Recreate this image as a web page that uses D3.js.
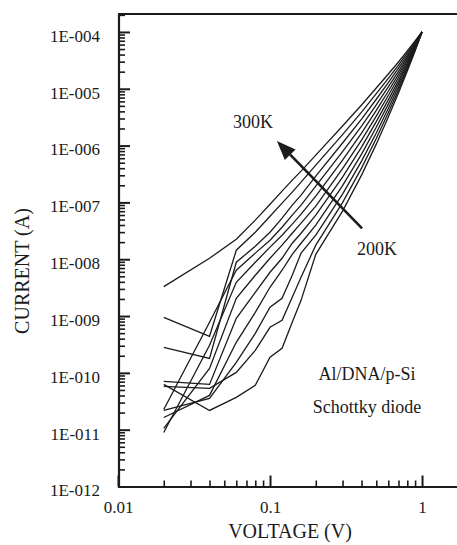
<!DOCTYPE html>
<html>
<head>
<meta charset="utf-8">
<script src="https://cdn.jsdelivr.net/npm/d3@7"></script>
<style>
  html, body { margin: 0; padding: 0; background: #fff; }
  svg { display: block; }
  svg text { font-family: "Liberation Serif", "Times New Roman", "DejaVu Serif", serif; }
</style>
</head>
<body>
<svg id="chart" width="457" height="545"></svg>
<script>
// Forward I–V characteristics of an Al/DNA/p-Si Schottky diode, 200 K – 300 K
const voltages = [0.02, 0.04, 0.06, 0.08, 0.1, 0.12, 0.14, 0.16, 0.2, 0.3, 0.4, 0.5, 0.6, 0.7, 0.8, 0.9, 1.0];

const temperatures = [300, 290, 280, 270, 260, 250, 240, 230, 220, 210, 200];

const current300K = [3.3e-9, 1.04e-8, 2.25e-8, 4.87e-8, 9.3e-8, 1.58e-7, 2.47e-7, 3.55e-7, 6.8e-7, 2.21e-6, 5.17e-6, 1.03e-5, 1.82e-5, 2.96e-5, 4.63e-5, 6.94e-5, 1e-4];
const current290K = [9.5e-10, 4.4e-10, 1.44e-8, 2.99e-8, 5.72e-8, 9.7e-8, 1.52e-7, 2.27e-7, 4.53e-7, 1.56e-6, 3.89e-6, 8.21e-6, 1.53e-5, 2.61e-5, 4.27e-5, 6.66e-5, 1e-4];
const current280K = [2.81e-10, 1.8e-10, 8.85e-9, 1.69e-8, 2.99e-8, 5.28e-8, 8.94e-8, 1.34e-7, 2.9e-7, 1.11e-6, 2.93e-6, 6.54e-6, 1.28e-5, 2.3e-5, 3.93e-5, 6.4e-5, 1e-4];
const current270K = [2.27e-11, 7.76e-10, 6.4e-9, 1.28e-8, 2.16e-8, 3.66e-8, 5.96e-8, 8.94e-8, 1.93e-7, 7.84e-7, 2.21e-6, 5.21e-6, 1.08e-5, 2.03e-5, 3.63e-5, 6.14e-5, 1e-4];
const current260K = [8.94e-12, 3.05e-10, 3.93e-9, 8.85e-9, 1.63e-8, 2.65e-8, 4.14e-8, 6.21e-8, 1.29e-7, 5.55e-7, 1.66e-6, 4.15e-6, 9.05e-6, 1.79e-5, 3.34e-5, 5.9e-5, 1e-4];
const current250K = [1.05e-11, 1.2e-10, 2.06e-9, 5.23e-9, 1.04e-8, 1.77e-8, 2.87e-8, 4.31e-8, 8.59e-8, 3.93e-7, 1.25e-6, 3.31e-6, 7.61e-6, 1.58e-5, 3.08e-5, 5.67e-5, 1e-4];
const current240K = [7.08e-11, 6.27e-11, 9.13e-10, 2.62e-9, 5.9e-9, 1.04e-8, 1.91e-8, 2.87e-8, 5.96e-8, 2.79e-7, 9.41e-7, 2.64e-6, 6.39e-6, 1.39e-5, 2.84e-5, 5.44e-5, 1e-4];
const current230K = [1.64e-11, 4.01e-11, 3.45e-10, 1.16e-9, 3.21e-9, 6.4e-9, 1.22e-8, 1.91e-8, 3.97e-8, 1.97e-7, 7.08e-7, 2.1e-6, 5.36e-6, 1.23e-5, 2.62e-5, 5.23e-5, 1e-4];
const current220K = [2.18e-11, 3.55e-11, 1.53e-10, 4.97e-10, 1.43e-9, 2.06e-9, 5.23e-9, 1.28e-8, 2.65e-8, 1.4e-7, 5.33e-7, 1.67e-6, 4.51e-6, 1.08e-5, 2.42e-5, 5.02e-5, 1e-4];
const current210K = [5.78e-11, 5.33e-11, 1.02e-10, 2.49e-10, 6.34e-10, 8.42e-10, 2.14e-9, 4.82e-9, 1.77e-8, 9.9e-8, 4.01e-7, 1.33e-6, 3.78e-6, 9.54e-6, 2.23e-5, 4.82e-5, 1e-4];
const current200K = [6.27e-11, 2.18e-11, 3.7e-11, 6.02e-11, 1.88e-10, 2.7e-10, 7.76e-10, 1.89e-9, 1.22e-8, 7.01e-8, 3.02e-7, 1.06e-6, 3.18e-6, 8.42e-6, 2.06e-5, 4.63e-5, 1e-4];

const yTickValues = [1e-12, 1e-11, 1e-10, 1e-9, 1e-8, 1e-7, 1e-6, 1e-5, 1e-4];
const yTickLabels = ["1E-012", "1E-011", "1E-010", "1E-009", "1E-008", "1E-007", "1E-006", "1E-005", "1E-004"];
const xTickValues = [0.01, 0.1, 1];
const xTickLabels = ["0.01", "0.1", "1"];

const series = [current300K, current290K, current280K, current270K, current260K, current250K,
                current240K, current230K, current220K, current210K, current200K];

const serif = "'Liberation Serif', 'Times New Roman', 'DejaVu Serif', serif";
const ink = "#1b1b1b";

const svg = d3.select("#chart");

const x = d3.scaleLog().domain([0.01, 2.0]).range([118, 467.8]);
const y = d3.scaleLog().domain([1e-12, 2.07e-4]).range([486.5, 14]);

// minor log ticks (2..9 within each decade)
const minorX = [];
for (let e = -2; e <= 0; e++) for (let m = 2; m <= 9; m++) {
  const v = m * Math.pow(10, e);
  if (v <= 2.0) minorX.push(v);
}
const minorY = [];
for (let e = -12; e <= -5; e++) for (let m = 2; m <= 9; m++) minorY.push(m * Math.pow(10, e));
minorY.push(2e-4);

// curves
const line = d3.line()
  .x((d, i) => x(voltages[i]))
  .y(d => y(d));

svg.append("g")
  .selectAll("path")
  .data(series)
  .join("path")
  .attr("d", d => line(d))
  .attr("fill", "none")
  .attr("stroke", ink)
  .attr("stroke-width", 1.3)
  .attr("stroke-linejoin", "miter");

// y axis: major ticks with labels
const yAxis = svg.append("g")
  .attr("transform", `translate(${x(0.01) + 1},0)`)
  .call(d3.axisLeft(y)
    .tickValues(yTickValues)
    .tickFormat((d, i) => yTickLabels[i])
    .tickSizeInner(-11)
    .tickSizeOuter(0)
    .tickPadding(19));
yAxis.attr("font-family", serif);
yAxis.select(".domain").remove();
yAxis.selectAll(".tick line").attr("stroke", ink).attr("stroke-width", 2);
yAxis.selectAll(".tick text")
  .attr("fill", ink)
  .attr("font-size", 17)
  .attr("font-family", serif)
  .attr("dy", "0.55em");

// y axis: minor ticks
const yMinor = svg.append("g")
  .attr("transform", `translate(${x(0.01) + 1},0)`)
  .call(d3.axisLeft(y).tickValues(minorY).tickFormat("").tickSizeInner(-6).tickSizeOuter(0));
yMinor.select(".domain").remove();
yMinor.selectAll(".tick line").attr("stroke", ink).attr("stroke-width", 1.6);

// x axis: major ticks with labels
const xAxis = svg.append("g")
  .attr("transform", `translate(0,${y(1e-12)})`)
  .call(d3.axisBottom(x)
    .tickValues(xTickValues)
    .tickFormat((d, i) => xTickLabels[i])
    .tickSizeInner(-11)
    .tickSizeOuter(0)
    .tickPadding(14));
xAxis.attr("font-family", serif);
xAxis.select(".domain").remove();
xAxis.selectAll(".tick line").attr("stroke", ink).attr("stroke-width", 2);
xAxis.selectAll(".tick text")
  .attr("fill", ink)
  .attr("font-size", 17)
  .attr("font-family", serif);

// x axis: minor ticks
const xMinor = svg.append("g")
  .attr("transform", `translate(0,${y(1e-12)})`)
  .call(d3.axisBottom(x).tickValues(minorX).tickFormat("").tickSizeInner(-6).tickSizeOuter(0));
xMinor.select(".domain").remove();
xMinor.selectAll(".tick line").attr("stroke", ink).attr("stroke-width", 1.6);

// frame: left axis, bottom axis, top border
const x0 = x(0.01) + 1, x1 = x(2.0), yb = y(1e-12) + 0.5, yt = y(2.07e-4);
svg.append("path")
  .attr("d", `M${x0},${yt}V${yb}H${x1}M${x0 - 1},${yt}H${x1}`)
  .attr("fill", "none")
  .attr("stroke", ink)
  .attr("stroke-width", 2.2);

// axis titles
svg.append("text")
  .attr("x", 290).attr("y", 538)
  .attr("text-anchor", "middle")
  .attr("font-family", serif)
  .attr("font-size", 20)
  .attr("fill", ink)
  .text("VOLTAGE (V)");

svg.append("text")
  .attr("transform", "translate(29,271) rotate(-90)")
  .attr("text-anchor", "middle")
  .attr("font-family", serif)
  .attr("font-size", 20)
  .attr("fill", ink)
  .text("CURRENT (A)");

// temperature arrow (200 K -> 300 K)
const tail = [x(0.403), y(3.5e-8)];
const tip = [x(0.111), y(1.2e-6)];
const ang = Math.atan2(tip[1] - tail[1], tip[0] - tail[0]);
const headLen = 19, headHalf = 7.5;
const base = [tip[0] - headLen * Math.cos(ang), tip[1] - headLen * Math.sin(ang)];
svg.append("line")
  .attr("x1", tail[0]).attr("y1", tail[1])
  .attr("x2", base[0]).attr("y2", base[1])
  .attr("stroke", ink).attr("stroke-width", 2.6);
svg.append("path")
  .attr("d", `M${tip[0]},${tip[1]}L${base[0] + headHalf * Math.sin(ang)},${base[1] - headHalf * Math.cos(ang)}L${base[0] - headHalf * Math.sin(ang)},${base[1] + headHalf * Math.cos(ang)}Z`)
  .attr("fill", ink);

// annotations
const note = (xv, yv, txt, anchor) => svg.append("text")
  .attr("x", x(xv)).attr("y", y(yv))
  .attr("text-anchor", anchor)
  .attr("font-family", serif)
  .attr("font-size", 18)
  .attr("fill", ink)
  .text(txt);
note(0.0571, 2.0e-6, "300K", "start");
note(0.3738, 1.17e-8, "200K", "start");
note(0.435, 7.4e-11, "Al/DNA/p-Si", "middle");
note(0.435, 1.95e-11, "Schottky diode", "middle");
</script>
</body>
</html>
